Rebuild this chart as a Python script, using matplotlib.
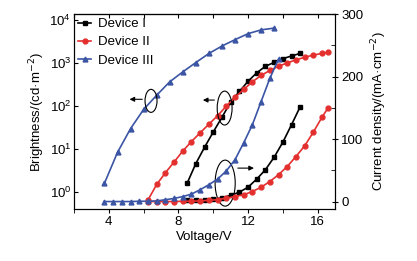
import matplotlib
matplotlib.use('Agg')
import matplotlib.pyplot as plt
from matplotlib.patches import Ellipse
from matplotlib.ticker import MultipleLocator, LogLocator, NullLocator

plt.rcParams['font.family'] = ['Liberation Sans', 'DejaVu Sans']
plt.rcParams['font.size'] = 9

# Device I (black squares)
v1 = [8.5, 9.0, 9.5, 10.0, 10.5, 11.0, 11.5, 12.0, 12.5, 13.0, 13.5, 14.0, 14.5, 15.0]
b1 = [1.6, 4.6, 11, 25, 55, 125, 220, 380, 600, 850, 1050, 1280, 1480, 1700]
j1 = [2, 2.5, 3, 4, 6, 10, 15, 23, 36, 51, 71, 95, 123, 152]

# Device II (red circles)
v2 = [6.25, 6.75, 7.25, 7.75, 8.25, 8.75, 9.25, 9.75, 10.25, 10.75, 11.25,
      11.75, 12.25, 12.75, 13.25, 13.75, 14.25, 14.75, 15.25, 15.75, 16.25, 16.6]
b2 = [0.65, 1.5, 2.8, 5, 9, 15, 24, 38, 60, 100, 160,
      245, 370, 520, 680, 850, 1020, 1200, 1380, 1550, 1700, 1800]
j2 = [0, 0, 0, 0, 0.5, 0.5, 1, 2, 3, 5.5, 8,
      11, 16, 23, 32, 43, 56, 72, 89, 111, 135, 150]

# Device III (blue triangles)
v3b = [3.75, 4.5, 5.25, 6.0, 6.75, 7.5, 8.25, 9.0, 9.75, 10.5, 11.25, 12.0, 12.75, 13.5]
b3 = [1.6, 8.4, 30, 84, 180, 370, 630, 1040, 1690, 2520, 3550, 4900, 6000, 6600]
v3j = [3.75, 4.25, 4.75, 5.25, 5.75, 6.25, 6.75, 7.25, 7.75, 8.25, 8.75, 9.25,
       9.75, 10.25, 10.75, 11.25, 11.75, 12.25, 12.75, 13.25, 13.75]
j3 = [0, 0, 0, 0, 0.5, 0.5, 1, 3, 5, 8, 12, 19,
      27, 36, 49, 67, 94, 123, 160, 197, 228]

labels = ['Device I', 'Device II', 'Device III']
colors = ['#000000', '#e3302f', '#3b55a4']

fig = plt.figure(figsize=(4.17, 2.61), dpi=100)
ax = fig.add_axes([0.1775, 0.199, 0.626, 0.747])
ax2 = ax.twinx()

kw = dict(lw=1.2, ms=3.5)
h1, = ax.plot(v1, b1, marker='s', color=colors[0], **kw)
h2, = ax.plot(v2, b2, marker='o', color=colors[1], **kw)
h3, = ax.plot(v3b, b3, marker='^', color=colors[2], **kw)
ax2.plot(v1, j1, marker='s', color=colors[0], **kw)
ax2.plot(v2, j2, marker='o', color=colors[1], **kw)
ax2.plot(v3j, j3, marker='^', color=colors[2], **kw)

ax.set_yscale('log')
ax.set_xlim(2, 17)
ax.set_ylim(0.4, 14000)
ax2.set_ylim(-12, 300)

ax.xaxis.set_major_locator(MultipleLocator(4))
ax.xaxis.set_minor_locator(MultipleLocator(2))
ax.yaxis.set_major_locator(LogLocator(base=10))
ax.yaxis.set_minor_locator(NullLocator())
ax2.yaxis.set_major_locator(MultipleLocator(100))
ax2.yaxis.set_minor_locator(MultipleLocator(50))

ax.tick_params(axis='x', which='both', direction='out', length=3, pad=2, labelsize=9.5)
ax.tick_params(axis='y', which='both', direction='in', length=3, pad=2, labelsize=9.5)
ax2.tick_params(axis='y', which='major', direction='inout', length=5, pad=2, labelsize=9.5)
ax2.tick_params(axis='y', which='minor', direction='in', length=3)
top = ax.secondary_xaxis('top')
top.xaxis.set_major_locator(MultipleLocator(2))
top.tick_params(direction='in', length=3, labeltop=False)

ax.set_xlabel('Voltage/V', labelpad=2, fontsize=9.5)
ax.set_ylabel('Brightness/(cd·m$^{-2}$)', labelpad=2, fontsize=9.5)
ax2.set_ylabel('Current density/(mA·cm$^{-2}$)', labelpad=4, fontsize=9.5)

# guide ellipses and arrows
for cx, cy, w, h in [(0.295, 0.555, 0.046, 0.118),
                     (0.577, 0.518, 0.057, 0.174),
                     (0.579, 0.133, 0.077, 0.236)]:
    ax2.add_patch(Ellipse((cx, cy), w, h, transform=ax2.transAxes,
                          fill=False, lw=0.8, color='k'))
arrow = dict(arrowstyle='-|>', lw=0.8, color='k', mutation_scale=7)
ax2.annotate('', xy=(0.202, 0.563), xytext=(0.272, 0.563),
             xycoords='axes fraction', arrowprops=arrow)
ax2.annotate('', xy=(0.483, 0.559), xytext=(0.548, 0.559),
             xycoords='axes fraction', arrowprops=arrow)
ax2.annotate('', xy=(0.70, 0.210), xytext=(0.617, 0.210),
             xycoords='axes fraction', arrowprops=arrow)

ax2.legend([h1, h2, h3], labels, loc='upper left', frameon=False,
           handlelength=1.0, handletextpad=0.5, labelspacing=0.45,
           borderaxespad=0.1, borderpad=0.2, fontsize=9.5)

fig.savefig('out.png', dpi=100)
